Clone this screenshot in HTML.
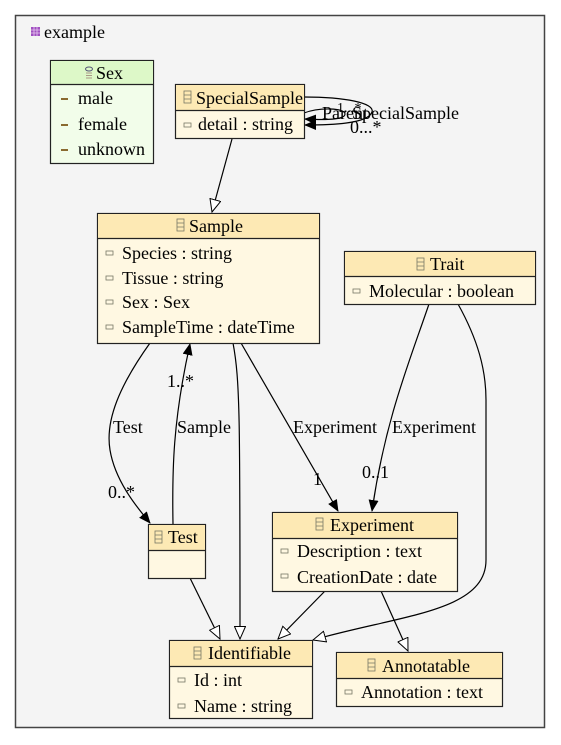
<!DOCTYPE html>
<html><head><meta charset="utf-8"><style>
html,body{margin:0;padding:0;background:#fff;}
svg{display:block;font-family:"Liberation Serif","Times New Roman","Noto Serif CJK SC","DejaVu Serif",serif;}
svg text{font-family:"Liberation Serif","Times New Roman","Noto Serif CJK SC","DejaVu Serif",serif;}
</style></head><body>
<svg width="561" height="745" viewBox="0 0 561 745" xmlns="http://www.w3.org/2000/svg">
<defs>
<marker id="fa" markerWidth="12" markerHeight="10" refX="11" refY="5" orient="auto" markerUnits="userSpaceOnUse"><path d="M0,0 L12,5 L0,10 Z" fill="#000"/></marker>
<marker id="ha" markerWidth="14" markerHeight="12" refX="13" refY="6" orient="auto" markerUnits="userSpaceOnUse"><path d="M0.5,0.5 L13,6 L0.5,11.5 Z" fill="#fff" stroke="#000" stroke-width="1"/></marker>
</defs>
<rect x="0" y="0" width="561" height="745" fill="#fff"/>
<rect x="15.5" y="15.5" width="529" height="712" fill="#f4f4f4" stroke="#444" stroke-width="1.5"/>
<rect x="31" y="27" width="9" height="9" fill="#a050c0"/>
<path d="M31,30h9M31,33h9M34,27v9M37,27v9" stroke="#e8c8f0" stroke-width="0.8"/>
<text x="44" y="38" font-size="18">example</text>

<g stroke="#000" stroke-width="1.2" fill="none">
<path d="M232,139 L212,212" marker-end="url(#ha)"/>
<path d="M304,97 C345,97 375,103 372,112 C368,124 330,125 305,125" marker-end="url(#fa)"/>
<path d="M304,113 C320,107 345,108 345,114 C345,120 325,120 305,119" marker-end="url(#fa)"/>
<path d="M150,343 C120,385 105,420 110,450 C115,480 135,505 150,523" marker-end="url(#fa)"/>
<path d="M173,524 C172,470 173,420 190,344" marker-end="url(#fa)"/>
<path d="M233,343 C240,380 240,420 240,639" marker-end="url(#ha)"/>
<path d="M241,343 L338,511" marker-end="url(#fa)"/>
<path d="M429,304 C410,360 385,420 372,511" marker-end="url(#fa)"/>
<path d="M458,304 C478,340 486,370 486,400 L486,560 C486,612 400,615 313,640" marker-end="url(#ha)"/>
<path d="M190,578 L220,639" marker-end="url(#ha)"/>
<path d="M325,591 L278,639" marker-end="url(#ha)"/>
<path d="M381,591 L408,651" marker-end="url(#ha)"/>
</g>

<g font-size="18" fill="#000" font-family="Liberation Serif, Noto Serif CJK SC, serif">
<text x="322" y="119">Parent</text>
<text x="352" y="119">SpecialSample</text>
<text x="337" y="112" font-size="14">1...*</text>
<text x="350" y="133">0...*</text>
<text x="113" y="433">Test</text>
<text x="108" y="498">0..*</text>
<text x="177" y="433">Sample</text>
<text x="167" y="387">1..*</text>
<text x="293" y="433">Experiment</text>
<text x="392" y="433">Experiment</text>
<text x="313" y="485">1</text>
<text x="362" y="478">0..1</text>
</g>

<g font-size="18" font-family="Liberation Serif, Noto Serif CJK SC, serif">
<rect x="50.5" y="60.5" width="103" height="103" fill="#f2fdea" stroke="#222" stroke-width="1.2"/>
<rect x="51" y="61" width="102" height="23" fill="#ddf8c8"/>
<line x1="50.5" y1="84.5" x2="153.5" y2="84.5" stroke="#222" stroke-width="1.2"/>
<ellipse cx="89" cy="69" rx="3.5" ry="2" fill="none" stroke="#557" stroke-width="1"/>
<path d="M86,73h6M86,75.5h6M86,78h6" stroke="#a98" stroke-width="1"/>
<text x="96" y="79">Sex</text>
<g fill="#8a6a30"><rect x="61" y="98" width="7" height="2"/><rect x="61" y="124" width="7" height="2"/><rect x="61" y="149" width="7" height="2"/></g>
<text x="78" y="104">male</text>
<text x="78" y="130">female</text>
<text x="78" y="155">unknown</text>

<rect x="175.5" y="84.5" width="129" height="54" fill="#fff8e2" stroke="#222" stroke-width="1.2"/>
<rect x="176" y="85" width="128" height="25" fill="#fde9b4"/>
<line x1="175.5" y1="110.5" x2="304.5" y2="110.5" stroke="#222" stroke-width="1.2"/>
<rect x="184" y="91" width="7" height="12" fill="none" stroke="#776" stroke-width="0.8"/><path d="M184,95h7M184,99h7" stroke="#776" stroke-width="0.8"/>
<text x="196" y="104">SpecialSample</text>
<rect x="184" y="123" width="7" height="4" fill="none" stroke="#776" stroke-width="0.8"/>
<text x="198" y="130">detail : string</text>

<rect x="97.5" y="213.5" width="222" height="130" fill="#fff8e2" stroke="#222" stroke-width="1.2"/>
<rect x="98" y="214" width="221" height="24" fill="#fde9b4"/>
<line x1="97.5" y1="238.5" x2="319.5" y2="238.5" stroke="#222" stroke-width="1.2"/>
<rect x="177" y="219" width="7" height="12" fill="none" stroke="#776" stroke-width="0.8"/><path d="M177,223h7M177,227h7" stroke="#776" stroke-width="0.8"/>
<text x="189" y="232">Sample</text>
<g fill="none" stroke="#776" stroke-width="0.8"><rect x="106" y="251" width="7" height="4"/><rect x="106" y="276" width="7" height="4"/><rect x="106" y="300" width="7" height="4"/><rect x="106" y="325" width="7" height="4"/></g>
<text x="122" y="259">Species : string</text>
<text x="122" y="284">Tissue : string</text>
<text x="122" y="308">Sex : Sex</text>
<text x="122" y="333">SampleTime : dateTime</text>

<rect x="344.5" y="251.5" width="191" height="53" fill="#fff8e2" stroke="#222" stroke-width="1.2"/>
<rect x="345" y="252" width="190" height="24" fill="#fde9b4"/>
<line x1="344.5" y1="276.5" x2="535.5" y2="276.5" stroke="#222" stroke-width="1.2"/>
<rect x="417" y="258" width="7" height="12" fill="none" stroke="#776" stroke-width="0.8"/><path d="M417,262h7M417,266h7" stroke="#776" stroke-width="0.8"/>
<text x="430" y="270">Trait</text>
<rect x="353" y="289" width="7" height="4" fill="none" stroke="#776" stroke-width="0.8"/>
<text x="369" y="297">Molecular : boolean</text>

<rect x="148.5" y="524.5" width="57" height="54" fill="#fff8e2" stroke="#222" stroke-width="1.2"/>
<rect x="149" y="525" width="56" height="25" fill="#fde9b4"/>
<line x1="148.5" y1="550.5" x2="205.5" y2="550.5" stroke="#222" stroke-width="1.2"/>
<rect x="155" y="531" width="7" height="12" fill="none" stroke="#776" stroke-width="0.8"/><path d="M155,535h7M155,539h7" stroke="#776" stroke-width="0.8"/>
<text x="168" y="543">Test</text>

<rect x="272.5" y="512.5" width="185" height="79" fill="#fff8e2" stroke="#222" stroke-width="1.2"/>
<rect x="273" y="513" width="184" height="25" fill="#fde9b4"/>
<line x1="272.5" y1="538.5" x2="457.5" y2="538.5" stroke="#222" stroke-width="1.2"/>
<rect x="316" y="518" width="7" height="12" fill="none" stroke="#776" stroke-width="0.8"/><path d="M316,522h7M316,526h7" stroke="#776" stroke-width="0.8"/>
<text x="330" y="531">Experiment</text>
<g fill="none" stroke="#776" stroke-width="0.8"><rect x="281" y="549" width="7" height="4"/><rect x="281" y="574" width="7" height="4"/></g>
<text x="297" y="557">Description : text</text>
<text x="297" y="583">CreationDate : date</text>

<rect x="169.5" y="640.5" width="143" height="78" fill="#fff8e2" stroke="#222" stroke-width="1.2"/>
<rect x="170" y="641" width="142" height="25" fill="#fde9b4"/>
<line x1="169.5" y1="666.5" x2="312.5" y2="666.5" stroke="#222" stroke-width="1.2"/>
<rect x="194" y="647" width="7" height="12" fill="none" stroke="#776" stroke-width="0.8"/><path d="M194,651h7M194,655h7" stroke="#776" stroke-width="0.8"/>
<text x="208" y="659">Identifiable</text>
<g fill="none" stroke="#776" stroke-width="0.8"><rect x="178" y="678" width="7" height="4"/><rect x="178" y="704" width="7" height="4"/></g>
<text x="194" y="686">Id : int</text>
<text x="194" y="712">Name : string</text>

<rect x="336.5" y="652.5" width="166" height="54" fill="#fff8e2" stroke="#222" stroke-width="1.2"/>
<rect x="337" y="653" width="165" height="25" fill="#fde9b4"/>
<line x1="336.5" y1="678.5" x2="502.5" y2="678.5" stroke="#222" stroke-width="1.2"/>
<rect x="368" y="659" width="7" height="12" fill="none" stroke="#776" stroke-width="0.8"/><path d="M368,663h7M368,667h7" stroke="#776" stroke-width="0.8"/>
<text x="382" y="672">Annotatable</text>
<rect x="345" y="690" width="7" height="4" fill="none" stroke="#776" stroke-width="0.8"/>
<text x="361" y="698">Annotation : text</text>
</g>
</svg>
</body></html>
